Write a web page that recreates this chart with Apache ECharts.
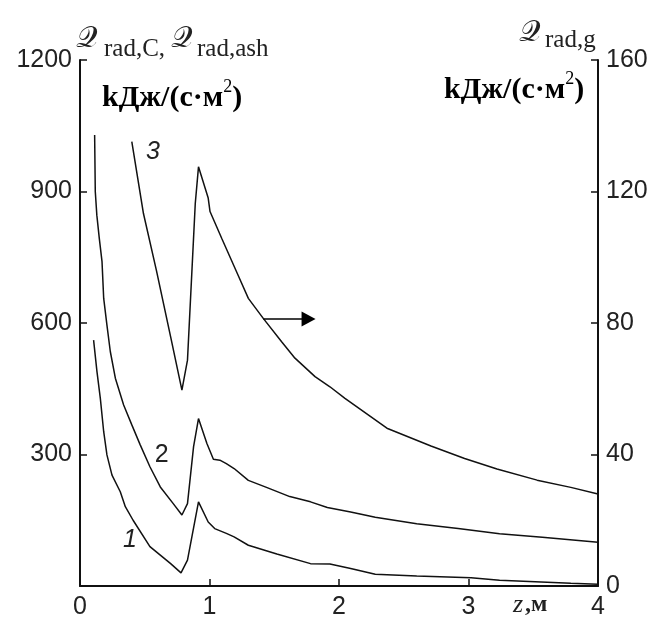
<!DOCTYPE html>
<html>
<head>
<meta charset="utf-8">
<script src="https://cdn.jsdelivr.net/npm/echarts@6/dist/echarts.min.js"></script>
<style>
  html, body { margin: 0; padding: 0; background: #fff; }
  #chart { width: 653px; height: 619px; }
</style>
</head>
<body>
<div id="chart"></div>
<script>
// curve 1 (left axis, kJ/(s*m2))
const curve1X = [0.105, 0.131, 0.157, 0.183, 0.208, 0.247, 0.311, 0.35, 0.41, 0.54, 0.70, 0.78, 0.83, 0.915, 0.99, 1.04, 1.13, 1.19, 1.30, 1.52, 1.78, 1.93, 2.09, 2.28, 2.60, 3.02, 3.24, 3.79, 4.0];
const curve1Y = [561, 489, 428, 352, 299, 253, 215, 181, 150, 90, 51, 30, 59, 192, 146, 131, 120, 112, 93, 73, 51, 50, 40, 27, 23, 19, 13, 6, 4];
// curve 2 (left axis)
const curve2X = [0.113, 0.118, 0.13, 0.149, 0.17, 0.183, 0.208, 0.234, 0.273, 0.337, 0.401, 0.465, 0.54, 0.62, 0.72, 0.787, 0.83, 0.877, 0.915, 0.98, 1.03, 1.08, 1.13, 1.19, 1.30, 1.44, 1.62, 1.78, 1.91, 2.09, 2.28, 2.60, 2.92, 3.24, 3.57, 4.0];
const curve2Y = [1029, 900, 846, 793, 740, 656, 595, 535, 474, 413, 367, 322, 272, 226, 188, 162, 188, 318, 382, 325, 289, 287, 279, 268, 241, 225, 204, 192, 179, 169, 157, 142, 131, 119, 111, 100];
// curve 3 (right axis, Q rad,g)
const curve3X = [0.40, 0.49, 0.59, 0.70, 0.787, 0.83, 0.89, 0.915, 0.99, 1.004, 1.094, 1.22, 1.30, 1.415, 1.557, 1.66, 1.815, 1.93, 2.046, 2.37, 2.71, 2.97, 3.22, 3.53, 3.79, 4.0];
const curve3Y = [135.2, 113.3, 96, 75.8, 59.6, 68.7, 116.3, 127.5, 118, 113.9, 105.8, 94.6, 87.5, 81.4, 74.3, 69.3, 63.7, 60.6, 57.1, 48, 42.6, 38.8, 35.6, 32.2, 30, 28];

const xTicks = [0, 1, 2, 3, 4];
const leftTicks = [0, 300, 600, 900, 1200];
const rightTicks = [0, 40, 80, 120, 160];

// curve labels and arrow, in data units
const curveLabels = [
  { text: '1', coord: [0.386, 105], italic: true },
  { text: '2', coord: [0.63, 299], italic: false },
  { text: '3', coord: [0.564, 990], italic: true },
];
const arrowFrom = [1.415, 81.2];
const arrowTo = [1.765, 81.2];

const zip = (xs, ys) => xs.map((x, i) => [x, ys[i]]);

const chart = echarts.init(document.getElementById('chart'));

const axisText = {
  color: '#222',
  fontFamily: 'Liberation Sans, Arial, sans-serif',
  fontSize: 25,
};
const lineStyle = { color: '#111', width: 1.5 };
const serif = '"Liberation Serif", "DejaVu Serif", serif';
const unitRich = {
  b: { fontFamily: serif, fontWeight: 'bold', fontSize: 30, color: '#111', lineHeight: 40 },
  s: { fontFamily: serif, fontSize: 18, color: '#111', verticalAlign: 'top', lineHeight: 18 },
};

const option = {
  animation: false,
  backgroundColor: '#fff',
  grid: {
    left: 80,
    right: 55,
    top: 60,
    bottom: 33,
    outerBoundsMode: 'none',
  },
  xAxis: {
    type: 'value',
    min: xTicks[0],
    max: xTicks[xTicks.length - 1],
    interval: 1,
    splitLine: { show: false },
    axisLine: { lineStyle: { color: '#111', width: 2 } },
    axisTick: { inside: true, length: 7, lineStyle: { color: '#111', width: 1.5 } },
    axisLabel: { ...axisText, margin: 9 },
  },
  yAxis: [
    {
      type: 'value',
      min: leftTicks[0],
      max: leftTicks[leftTicks.length - 1],
      interval: 300,
      splitLine: { show: false },
      axisLine: { show: true, lineStyle: { color: '#111', width: 2 } },
      axisTick: { show: true, inside: true, length: 7, lineStyle: { color: '#111', width: 1.5 } },
      axisLabel: { ...axisText, margin: 8, formatter: (v) => (v === 0 ? '' : v) },
    },
    {
      type: 'value',
      position: 'right',
      min: rightTicks[0],
      max: rightTicks[rightTicks.length - 1],
      interval: 40,
      splitLine: { show: false },
      axisLine: { show: true, lineStyle: { color: '#111', width: 2 } },
      axisTick: { show: true, inside: true, length: 7, lineStyle: { color: '#111', width: 1.5 } },
      axisLabel: { ...axisText, margin: 8 },
    },
  ],
  series: [
    {
      type: 'line',
      data: zip(curve1X, curve1Y),
      symbol: 'none',
      lineStyle,
      markPoint: {
        symbol: 'circle',
        symbolSize: 1,
        itemStyle: { color: 'rgba(0,0,0,0)' },
        silent: true,
        data: curveLabels.map((l) => ({
          name: l.text,
          coord: l.coord,
          label: {
            show: true,
            position: 'inside',
            color: '#222',
            fontFamily: 'Liberation Sans, Arial, sans-serif',
            fontStyle: l.italic ? 'italic' : 'normal',
            fontSize: 25,
            formatter: l.text,
          },
        })),
      },
    },
    {
      type: 'line',
      data: zip(curve2X, curve2Y),
      symbol: 'none',
      lineStyle,
    },
    {
      type: 'line',
      yAxisIndex: 1,
      data: zip(curve3X, curve3Y),
      symbol: 'none',
      lineStyle,
      markLine: {
        silent: true,
        symbol: ['none', 'triangle'],
        symbolSize: [15, 14],
        label: { show: false },
        lineStyle: { color: '#000', width: 1.5, type: 'solid' },
        data: [[{ coord: arrowFrom }, { coord: arrowTo }]],
      },
    },
  ],
  graphic: [
    {
      type: 'text',
      x: 76, y: 39,
      style: { text: '𝒬', font: '30px "DejaVu Serif", serif', fill: '#222', textVerticalAlign: 'middle' },
    },
    {
      type: 'text',
      x: 104, y: 62,
      style: { text: 'rad,C,', font: '25px ' + serif, fill: '#222', textVerticalAlign: 'bottom' },
    },
    {
      type: 'text',
      x: 171, y: 39,
      style: { text: '𝒬', font: '30px "DejaVu Serif", serif', fill: '#222', textVerticalAlign: 'middle' },
    },
    {
      type: 'text',
      x: 197, y: 62,
      style: { text: 'rad,ash', font: '25px ' + serif, fill: '#222', textVerticalAlign: 'bottom' },
    },
    {
      type: 'text',
      x: 102, y: 98,
      style: { text: '{b|kДж/(с·м}{s|2}{b|)}', rich: unitRich, textVerticalAlign: 'middle' },
    },
    {
      type: 'text',
      x: 519, y: 33,
      style: { text: '𝒬', font: '30px "DejaVu Serif", serif', fill: '#222', textVerticalAlign: 'middle' },
    },
    {
      type: 'text',
      x: 545, y: 53,
      style: { text: 'rad,g', font: '25px ' + serif, fill: '#222', textVerticalAlign: 'bottom' },
    },
    {
      type: 'text',
      x: 444, y: 90,
      style: { text: '{b|kДж/(с·м}{s|2}{b|)}', rich: unitRich, textVerticalAlign: 'middle' },
    },
    {
      type: 'text',
      x: 513, y: 605,
      style: { text: 'z', font: 'italic 26px ' + serif, fill: '#222', textVerticalAlign: 'middle' },
    },
    {
      type: 'text',
      x: 525, y: 605,
      style: { text: ',м', font: 'bold 24px ' + serif, fill: '#222', textVerticalAlign: 'middle' },
    },
  ],
};

chart.setOption(option);
</script>
</body>
</html>
